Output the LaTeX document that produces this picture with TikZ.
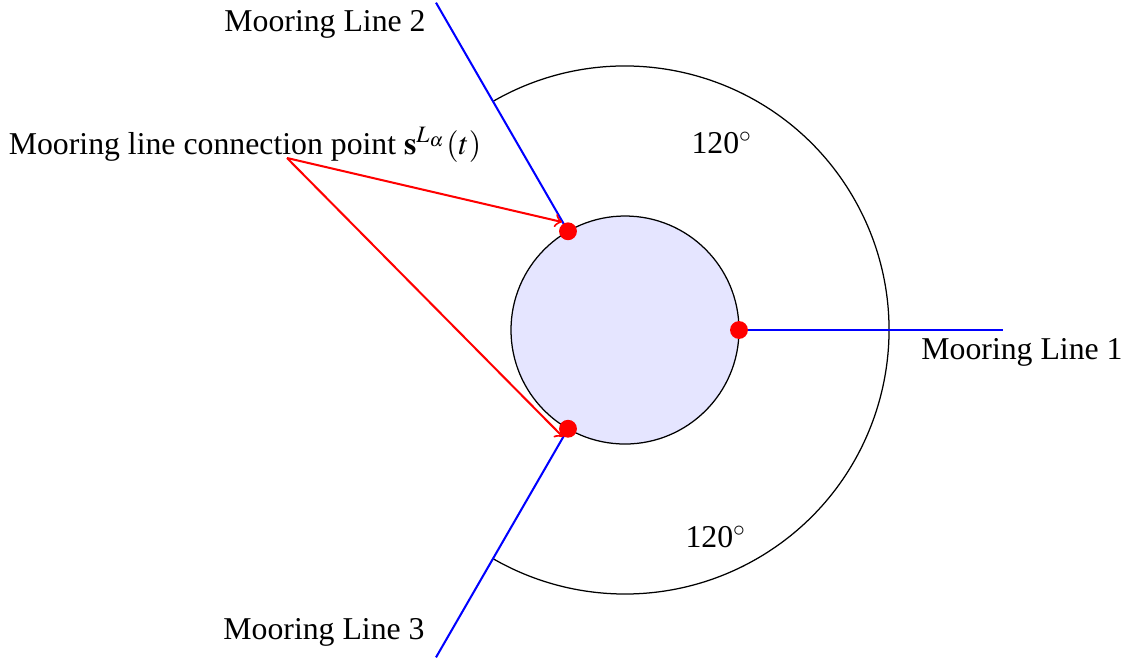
\documentclass[tikz,border=0pt]{standalone}
\usepackage{mathptmx}
\usepackage{fontspec}
\setmainfont{Liberation Serif}
\tikzset{
  lbl/.style={font=\fontsize{10.15pt}{12pt}\selectfont, inner sep=0pt},
  mline/.style={blue, line width=0.65pt},
  conn/.style={red, line width=0.65pt, ->},
  dot/.style={circle, fill=red, inner sep=0pt, minimum size=5.7pt},
}
\begin{document}
\begin{tikzpicture}[x=0.3195pt,y=0.3195pt]
\useasboundingbox (-625,-329) rectangle (503,330);
% outer arc
\draw[line width=0.4pt] (120:264) arc[start angle=120, end angle=-120, radius=264];
% body
\draw[line width=0.4pt, fill=blue!10] (0,0) circle[radius=114];
% mooring lines
\coordinate (a1) at (0:114);
\coordinate (a2) at (120:114);
\coordinate (a3) at (240:114);
\coordinate (b1) at (0:378);
\coordinate (b2) at (120:378);
\coordinate (b3) at (240:378);
\draw[mline] (a1) -- (b1);
\draw[mline] (a2) -- (b2);
\draw[mline] (a3) -- (b3);
% labels
\node[lbl] (l1) at (397,-22) {Mooring Line 1};
\node[lbl] (l2) at (-300,306) {Mooring Line 2};
\node[lbl] (l3) at (-301,-302) {Mooring Line 3};
\node[lbl] (ang1) at (97,187) {120$^\circ$};
\node[lbl] (ang2) at (91,-207) {120$^\circ$};
\node[lbl] (cp) at (-380,185) {Mooring line connection point $\mathbf{s}^{L_\alpha}(t)$};
% connection arrows
\coordinate (src) at (-338,172);
\coordinate (t2) at (-63,108);
\coordinate (t3) at (-62,-107);
\draw[conn] (src) -- (t2);
\draw[conn] (src) -- (t3);
% dots
\node[dot] (d1) at (a1) {};
\node[dot] (d2) at (a2) {};
\node[dot] (d3) at (a3) {};
\end{tikzpicture}
\end{document}
